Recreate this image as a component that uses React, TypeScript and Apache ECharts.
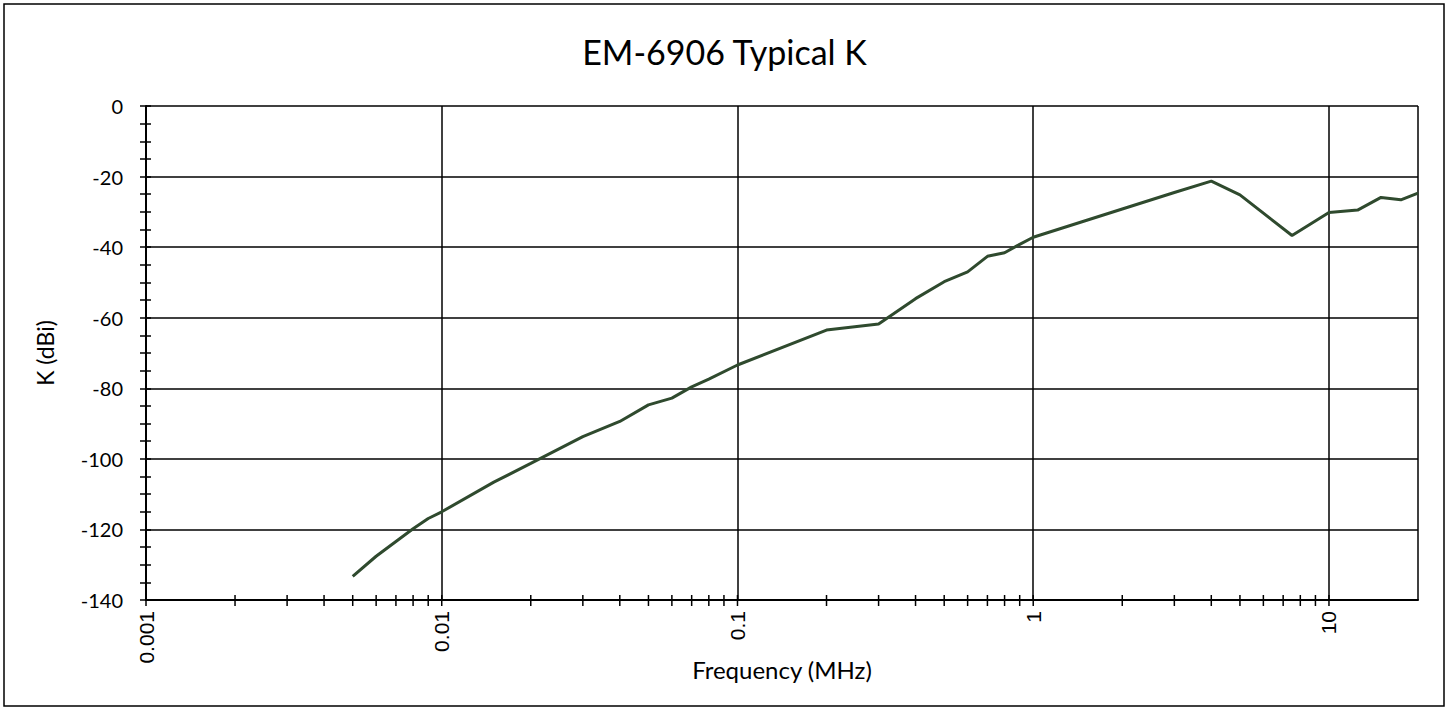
import React, { useEffect, useRef } from "react";
import * as echarts from "echarts";

const titleText = "EM-6906 Typical K";
const xName = "Frequency (MHz)";
const yName = "K (dBi)";

const freqMHz = [
  0.005, 0.006, 0.007, 0.008, 0.009, 0.01, 0.015, 0.02, 0.03, 0.04, 0.05, 0.06,
  0.07, 0.08, 0.1, 0.2, 0.3, 0.4, 0.5, 0.6, 0.7, 0.8, 0.9, 1, 2, 3, 4, 5, 7.5,
  10, 12.5, 15, 17.5, 20,
];
const kdBi = [
  -133.3, -127.6, -123.4, -119.8, -116.9, -115.0, -106.6, -101.3, -93.7, -89.4,
  -84.7, -82.8, -79.6, -77.4, -73.4, -63.5, -61.8, -54.6, -49.8, -47.0, -42.6,
  -41.6, -39.2, -37.2, -29.2, -24.5, -21.3, -25.2, -36.7, -30.2, -29.5, -25.9,
  -26.6, -24.7,
];

const xMin = 0.001;
const xMax = 20;
const yMin = -140;
const yMax = 0;
const yStep = 20;
const xTickLabels = ["0.001", "0.01", "0.1", "1", "10"];
const xMajorTicks = [0.001, 0.01, 0.1, 1, 10];
const xMinorMultipliers = [2, 3, 4, 5, 6, 7, 8, 9];

export default function App() {
  const ref = useRef<HTMLDivElement>(null);

  useEffect(() => {
    document.body.style.margin = "0";
    document.body.style.overflow = "hidden";
    if (!ref.current) return;
    const chart = echarts.init(ref.current, undefined, { renderer: "svg" });

    const tickVals: { v: number; major: boolean }[] = [];
    xMajorTicks.forEach((m) => {
      tickVals.push({ v: m, major: true });
      xMinorMultipliers.forEach((k) => {
        const v = m * k;
        if (v < xMax) tickVals.push({ v, major: false });
      });
    });

    const labelFor = (v: number) => {
      const l = Math.log10(v);
      const r = Math.round(l);
      if (Math.abs(l - r) < 1e-6) {
        const idx = r + 3;
        return xTickLabels[idx] ?? "";
      }
      return "";
    };

    const option: any = {
      animation: false,
      backgroundColor: "#ffffff",
      title: {
        text: titleText,
        left: "center",
        top: 29,
        textStyle: {
          fontFamily: "Lato",
          fontSize: 34,
          fontWeight: "normal",
          color: "#000",
        },
      },
      graphic: [
        {
          type: "rect",
          shape: { x: 4, y: 4, width: 1440, height: 702 },
          style: { fill: "none", stroke: "#000", lineWidth: 1.5 },
          silent: true,
        },
      ],
      grid: { left: 146, right: 31, top: 106, bottom: 113, containLabel: false },
      xAxis: {
        type: "log",
        logBase: 10,
        min: xMin,
        max: xMax,
        name: xName,
        nameLocation: "middle",
        nameGap: 57,
        nameMoveOverlap: false,
        nameTextStyle: { fontFamily: "Lato", fontSize: 24, color: "#000" },
        axisLine: { show: true, onZero: false, lineStyle: { color: "#000", width: 2 } },
        axisTick: { show: false },
        minorTick: { show: false },
        axisLabel: {
          rotate: 90,
          margin: 11,
          fontFamily: "Liberation Sans",
          fontSize: 21,
          color: "#000",
          formatter: (v: number) => labelFor(v),
        },
        splitLine: { show: true, lineStyle: { color: "#000", width: 1.5 } },
      },
      yAxis: [
        {
          type: "value",
          min: yMin,
          max: yMax,
          interval: yStep,
          name: yName,
          nameLocation: "middle",
          nameGap: 90,
          nameMoveOverlap: false,
          nameTextStyle: { fontFamily: "Lato", fontSize: 23, color: "#000" },
          axisLine: { show: true, lineStyle: { color: "#000", width: 2 } },
          axisTick: { show: true, inside: false, length: 6, lineStyle: { color: "#000", width: 1.5 } },
          minorTick: { show: true, splitNumber: 4, length: 6, lineStyle: { color: "#000", width: 1.5 } },
          axisLabel: { margin: 23, fontFamily: "Lato", fontSize: 20, color: "#000" },
          splitLine: { show: true, lineStyle: { color: "#000", width: 1.5 } },
        },
        {
          type: "value",
          min: yMin,
          max: yMax,
          interval: yStep,
          position: "left",
          axisLine: { show: false },
          axisTick: { show: true, inside: true, length: 5, lineStyle: { color: "#000", width: 1.5 } },
          minorTick: { show: true, splitNumber: 4, length: 5, lineStyle: { color: "#000", width: 1.5 } },
          axisLabel: { show: false },
          splitLine: { show: false },
        },
      ],
      series: [
        {
          type: "line",
          data: freqMHz.map((f, i) => [f, kdBi[i]]),
          showSymbol: false,
          symbol: "none",
          lineStyle: { color: "#2f4a2e", width: 3 },
          z: 5,
        },
        {
          type: "custom",
          silent: true,
          z: 6,
          data: tickVals.map((t) => [t.v, yMin, t.major ? 1 : 0]),
          encode: { x: 0, y: 1 },
          renderItem: (params: any, api: any) => {
            const p = api.coord([api.value(0), api.value(1)]);
            return {
              type: "line",
              shape: { x1: p[0], y1: p[1] - 5, x2: p[0], y2: p[1] + 6 },
              style: { stroke: "#000", lineWidth: 1.5 },
            };
          },
        },
      ],
    };

    chart.setOption(option);
    return () => chart.dispose();
  }, []);

  return <div ref={ref} style={{ width: 1449, height: 713 }} />;
}
